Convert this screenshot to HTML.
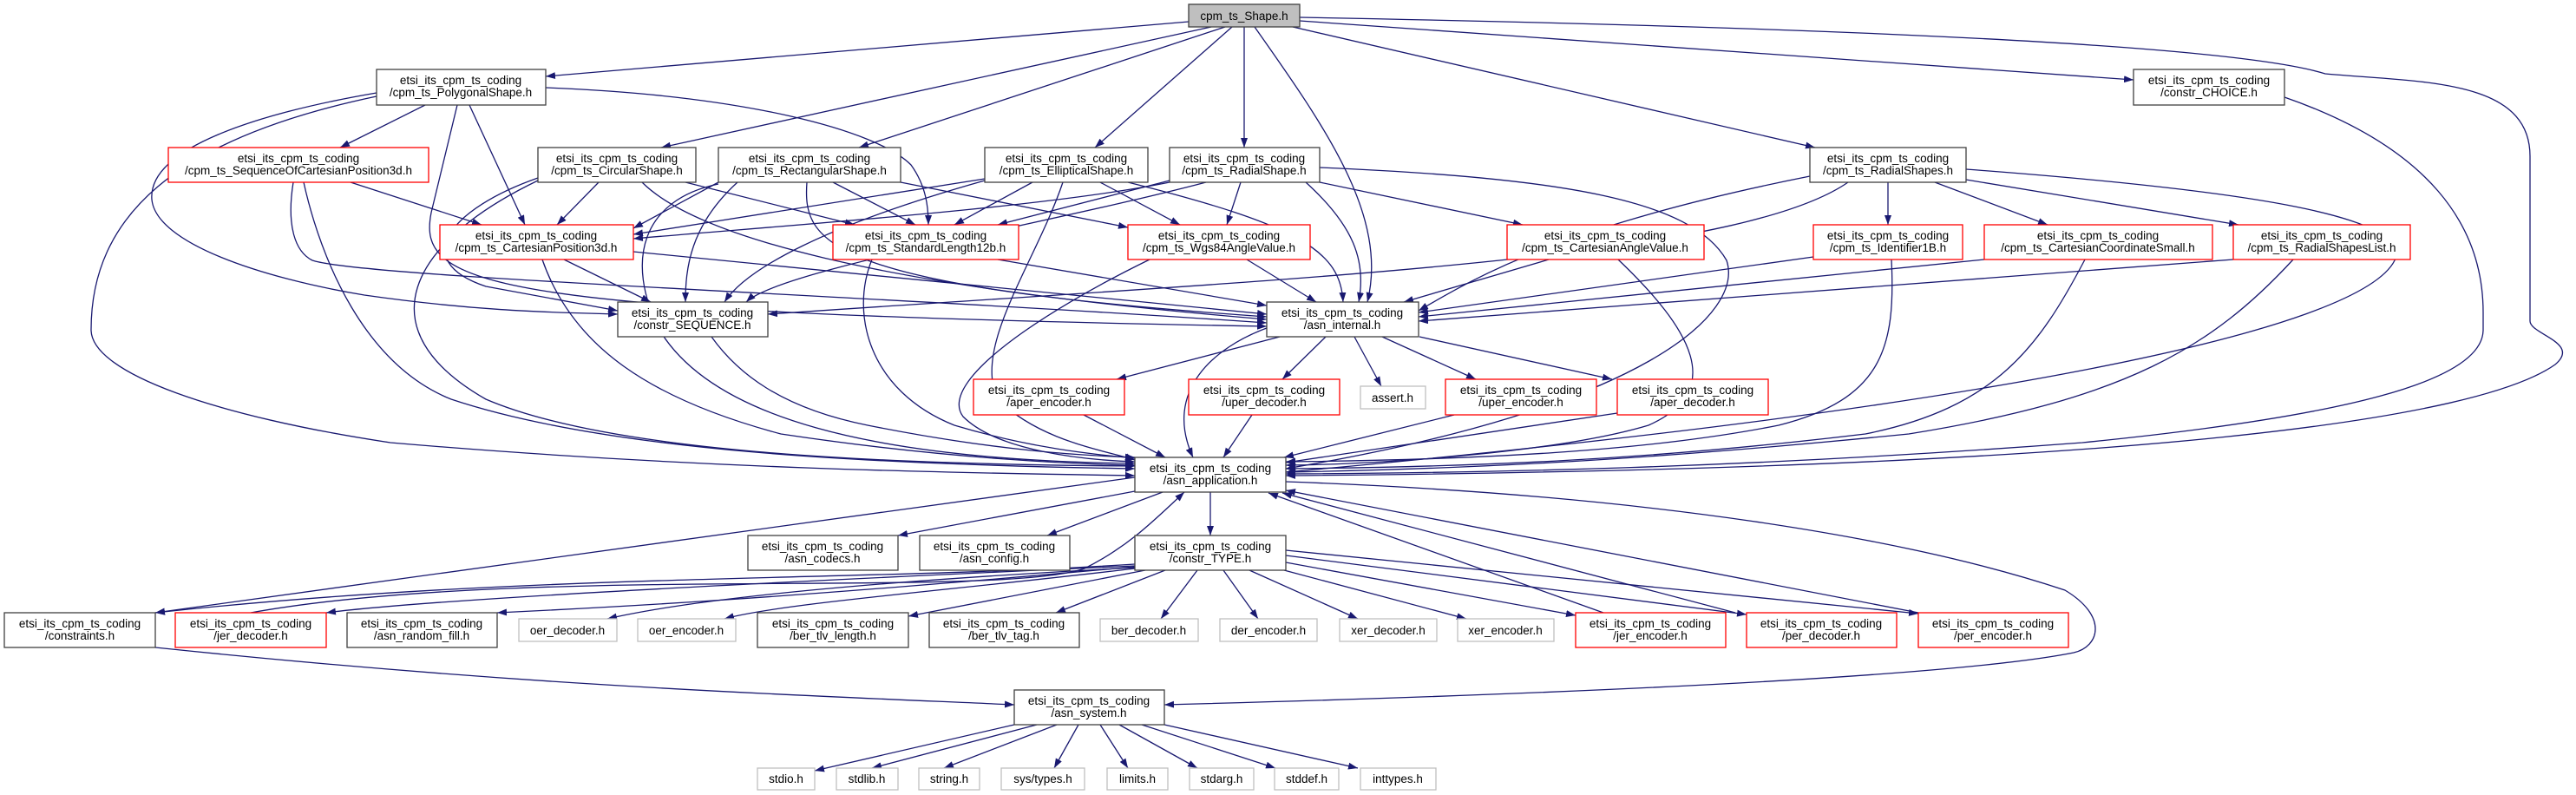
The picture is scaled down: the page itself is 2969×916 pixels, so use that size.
<!DOCTYPE html>
<html><head><meta charset="utf-8"><style>
html,body{margin:0;padding:0;background:#fff;}
svg{display:block;}
text{font-family:"Liberation Sans",sans-serif;font-size:13.5px;fill:#000;text-anchor:middle;}
.b{fill:#fff;stroke:#404040;stroke-width:1.3;}
.r{fill:#fff;stroke:#ff0000;stroke-width:1.3;}
.g{fill:#fff;stroke:#bfbfbf;stroke-width:1.3;}
</style></head><body>
<svg width="2969" height="916" viewBox="0 0 2969 916" xmlns="http://www.w3.org/2000/svg">
<defs><marker id="a" markerUnits="userSpaceOnUse" markerWidth="11" markerHeight="8" refX="11" refY="4" orient="auto"><path d="M0,0 L11,4 L0,8 z" fill="#191970"/></marker></defs>
<g fill="none" stroke="#191970" stroke-width="1.3" marker-end="url(#a)">
<path d="M1370,25 L629,88"/>
<path d="M1396,31 L762,170"/>
<path d="M1412,31 L990,170"/>
<path d="M1420,31 L1262,170"/>
<path d="M1434,31 L1434,170"/>
<path d="M1446,31 C1530,150 1600,250 1576,348"/>
<path d="M1490,31 L2092,170"/>
<path d="M1498,24 L2459,92"/>
<path d="M1498,20 C2300,35 2600,60 2680,85 C2790,95 2916,90 2916,180 L2916,370 C2916,385 2975,395 2945,420 C2860,480 2500,540 1482,548"/>
<path d="M490,121 L392,170"/>
<path d="M541,121 L605,259"/>
<path d="M434,107 C300,130 170,170 175,230 C180,280 300,320 420,340 C560,360 650,360 712,362"/>
<path d="M434,111 C200,160 105,250 105,380 C105,430 250,480 450,510 C800,540 1100,545 1308,548"/>
<path d="M629,101 C860,110 1010,150 1050,190 C1068,215 1070,240 1070,259"/>
<path d="M527,121 L497,245 C480,330 560,360 1460,376"/>
<path d="M404,210 L555,259"/>
<path d="M338,210 C330,260 340,290 360,300 C420,320 1000,340 1460,372"/>
<path d="M350,210 C370,300 420,420 520,460 C700,520 1000,535 1308,540"/>
<path d="M690,210 L642,259"/>
<path d="M620,205 C520,240 470,300 560,330 L712,358"/>
<path d="M740,210 C800,270 1000,330 1460,368"/>
<path d="M620,208 C470,280 420,380 560,460 C700,520 1000,535 1308,537"/>
<path d="M790,210 L985,259"/>
<path d="M828,210 L730,263"/>
<path d="M850,210 C795,260 790,310 790,348"/>
<path d="M960,210 L1055,259"/>
<path d="M1038,210 L1300,262"/>
<path d="M930,210 C925,280 950,330 1460,365"/>
<path d="M828,212 C740,230 720,300 760,380 C820,480 1000,530 1308,534"/>
<path d="M1135,206 L730,270"/>
<path d="M1190,210 L1100,259"/>
<path d="M1268,210 L1360,259"/>
<path d="M1135,208 C950,260 860,310 835,348"/>
<path d="M1300,210 C1500,260 1545,290 1548,348"/>
<path d="M1225,210 C1195,300 1120,400 1150,460 C1200,510 1280,520 1308,530"/>
<path d="M1348,208 L1150,259"/>
<path d="M1430,210 L1414,259"/>
<path d="M1521,210 L1755,259"/>
<path d="M1390,210 C1200,260 900,310 860,348"/>
<path d="M1505,210 C1560,260 1575,300 1566,348"/>
<path d="M1521,193 C1800,205 1950,230 1990,300 C2010,360 1900,470 1482,540"/>
<path d="M1348,210 C1200,240 900,260 730,275"/>
<path d="M2176,210 L2176,259"/>
<path d="M2230,210 L2360,259"/>
<path d="M2266,207 L2580,259"/>
<path d="M2086,203 C1800,260 1700,320 1635,358"/>
<path d="M2130,210 C2000,300 1500,320 885,362"/>
<path d="M2266,195 C2600,220 2780,250 2760,300 C2720,380 2300,470 1482,544"/>
<path d="M650,299 L750,348"/>
<path d="M730,290 L1460,362"/>
<path d="M625,299 C660,400 750,460 900,500 C1100,530 1250,535 1308,536"/>
<path d="M1150,299 L1460,352"/>
<path d="M1005,299 C980,360 1000,450 1100,490 C1200,520 1280,525 1308,528"/>
<path d="M1437,299 L1517,348"/>
<path d="M1325,299 C1200,360 1080,440 1110,480 C1150,520 1250,530 1308,532"/>
<path d="M1785,299 L1618,348"/>
<path d="M1865,299 C1950,380 1990,450 1900,490 C1800,520 1600,535 1482,536"/>
<path d="M2090,296 L1635,360"/>
<path d="M2180,299 C2185,400 2170,460 2050,490 C1900,520 1700,530 1482,532"/>
<path d="M2287,299 L1635,365"/>
<path d="M2403,299 C2350,400 2300,470 2150,500 C1900,530 1700,538 1482,540"/>
<path d="M2574,299 L1635,370"/>
<path d="M2643,299 C2550,400 2450,460 2200,500 C1900,530 1700,540 1482,544"/>
<path d="M2633,112 C2800,170 2862,260 2862,360 L2862,380 C2862,440 2700,480 2400,510 C2000,540 1700,545 1482,546"/>
<path d="M820,388 C850,430 900,470 1000,490 C1150,520 1250,525 1308,527"/>
<path d="M1475,388 L1287,437"/>
<path d="M1528,388 L1478,437"/>
<path d="M1561,388 L1592,445"/>
<path d="M1593,388 L1701,437"/>
<path d="M1636,388 L1858,437"/>
<path d="M1460,378 C1400,400 1340,450 1375,527"/>
<path d="M1249,478 L1343,527"/>
<path d="M1443,478 L1410,527"/>
<path d="M1676,478 L1480,527"/>
<path d="M1864,476 L1482,533"/>
<path d="M1395,567 L1395,617"/>
<path d="M1340,567 L1207,617"/>
<path d="M1308,566 L1035,617"/>
<path d="M1308,550 L179,706"/>
<path d="M1482,555 C1900,570 2200,620 2380,680 C2430,710 2420,745 2390,752 C2250,780 1800,800 1342,812"/>
<path d="M1308,650 C1000,670 600,660 179,706"/>
<path d="M1308,652 C900,670 500,690 376,706"/>
<path d="M1308,653 C900,690 700,700 573,706"/>
<path d="M1308,654 C1000,670 800,690 700,713"/>
<path d="M1308,655 C1100,680 900,695 835,713"/>
<path d="M1320,657 L1047,710"/>
<path d="M1343,657 L1217,706"/>
<path d="M1380,657 L1338,713"/>
<path d="M1410,657 L1450,713"/>
<path d="M1440,657 L1565,713"/>
<path d="M1480,657 L1690,713"/>
<path d="M1482,648 L1816,709"/>
<path d="M1482,640 L2013,708"/>
<path d="M1482,634 L2211,707"/>
<path d="M289,706 C600,650 1150,690 1250,655 C1300,630 1330,600 1365,567"/>
<path d="M1848,706 L1462,568"/>
<path d="M2000,706 L1478,568"/>
<path d="M2211,706 L1482,565"/>
<path d="M179,746 C600,790 900,800 1169,812"/>
<path d="M1169,835 L939,888"/>
<path d="M1195,835 L1005,885"/>
<path d="M1218,835 L1088,885"/>
<path d="M1243,835 L1215,885"/>
<path d="M1268,835 L1300,885"/>
<path d="M1290,835 L1380,885"/>
<path d="M1316,835 L1470,885"/>
<path d="M1342,835 L1565,885"/>
</g>

<!-- nodes -->
<rect x="1370" y="5" width="128" height="26" style="fill:#bfbfbf;stroke:#404040;stroke-width:1.3"/><text x="1434" y="23">cpm_ts_Shape.h</text>

<rect class="b" x="434" y="80" width="195" height="41"/><text x="531" y="97">etsi_its_cpm_ts_coding</text><text x="531" y="111">/cpm_ts_PolygonalShape.h</text>
<rect class="b" x="2459" y="80" width="174" height="41"/><text x="2546" y="97">etsi_its_cpm_ts_coding</text><text x="2546" y="111">/constr_CHOICE.h</text>

<rect class="r" x="194" y="170" width="300" height="40"/><text x="344" y="187">etsi_its_cpm_ts_coding</text><text x="344" y="201">/cpm_ts_SequenceOfCartesianPosition3d.h</text>
<rect class="b" x="620" y="170" width="182" height="40"/><text x="711" y="187">etsi_its_cpm_ts_coding</text><text x="711" y="201">/cpm_ts_CircularShape.h</text>
<rect class="b" x="828" y="170" width="210" height="40"/><text x="933" y="187">etsi_its_cpm_ts_coding</text><text x="933" y="201">/cpm_ts_RectangularShape.h</text>
<rect class="b" x="1135" y="170" width="188" height="40"/><text x="1229" y="187">etsi_its_cpm_ts_coding</text><text x="1229" y="201">/cpm_ts_EllipticalShape.h</text>
<rect class="b" x="1348" y="170" width="173" height="40"/><text x="1434" y="187">etsi_its_cpm_ts_coding</text><text x="1434" y="201">/cpm_ts_RadialShape.h</text>
<rect class="b" x="2086" y="170" width="180" height="40"/><text x="2176" y="187">etsi_its_cpm_ts_coding</text><text x="2176" y="201">/cpm_ts_RadialShapes.h</text>

<rect class="r" x="507" y="259" width="223" height="40"/><text x="618" y="276">etsi_its_cpm_ts_coding</text><text x="618" y="290">/cpm_ts_CartesianPosition3d.h</text>
<rect class="r" x="960" y="259" width="214" height="40"/><text x="1067" y="276">etsi_its_cpm_ts_coding</text><text x="1067" y="290">/cpm_ts_StandardLength12b.h</text>
<rect class="r" x="1300" y="259" width="210" height="40"/><text x="1405" y="276">etsi_its_cpm_ts_coding</text><text x="1405" y="290">/cpm_ts_Wgs84AngleValue.h</text>
<rect class="r" x="1737" y="259" width="227" height="40"/><text x="1850" y="276">etsi_its_cpm_ts_coding</text><text x="1850" y="290">/cpm_ts_CartesianAngleValue.h</text>
<rect class="r" x="2090" y="259" width="172" height="40"/><text x="2176" y="276">etsi_its_cpm_ts_coding</text><text x="2176" y="290">/cpm_ts_Identifier1B.h</text>
<rect class="r" x="2287" y="259" width="263" height="40"/><text x="2418" y="276">etsi_its_cpm_ts_coding</text><text x="2418" y="290">/cpm_ts_CartesianCoordinateSmall.h</text>
<rect class="r" x="2574" y="259" width="204" height="40"/><text x="2676" y="276">etsi_its_cpm_ts_coding</text><text x="2676" y="290">/cpm_ts_RadialShapesList.h</text>

<rect class="b" x="712" y="348" width="173" height="40"/><text x="798" y="365">etsi_its_cpm_ts_coding</text><text x="798" y="379">/constr_SEQUENCE.h</text>
<rect class="b" x="1460" y="348" width="175" height="40"/><text x="1547" y="365">etsi_its_cpm_ts_coding</text><text x="1547" y="379">/asn_internal.h</text>

<rect class="r" x="1122" y="437" width="174" height="41"/><text x="1209" y="454">etsi_its_cpm_ts_coding</text><text x="1209" y="468">/aper_encoder.h</text>
<rect class="r" x="1370" y="437" width="174" height="41"/><text x="1457" y="454">etsi_its_cpm_ts_coding</text><text x="1457" y="468">/uper_decoder.h</text>
<rect class="g" x="1568" y="445" width="75" height="26"/><text x="1605" y="463">assert.h</text>
<rect class="r" x="1666" y="437" width="174" height="41"/><text x="1753" y="454">etsi_its_cpm_ts_coding</text><text x="1753" y="468">/uper_encoder.h</text>
<rect class="r" x="1864" y="437" width="174" height="41"/><text x="1951" y="454">etsi_its_cpm_ts_coding</text><text x="1951" y="468">/aper_decoder.h</text>

<rect class="b" x="1308" y="527" width="174" height="40"/><text x="1395" y="544">etsi_its_cpm_ts_coding</text><text x="1395" y="558">/asn_application.h</text>

<rect class="b" x="862" y="617" width="173" height="40"/><text x="948" y="634">etsi_its_cpm_ts_coding</text><text x="948" y="648">/asn_codecs.h</text>
<rect class="b" x="1060" y="617" width="173" height="40"/><text x="1146" y="634">etsi_its_cpm_ts_coding</text><text x="1146" y="648">/asn_config.h</text>
<rect class="b" x="1308" y="617" width="174" height="40"/><text x="1395" y="634">etsi_its_cpm_ts_coding</text><text x="1395" y="648">/constr_TYPE.h</text>

<rect class="b" x="5" y="706" width="174" height="40"/><text x="92" y="723">etsi_its_cpm_ts_coding</text><text x="92" y="737">/constraints.h</text>
<rect class="r" x="202" y="706" width="174" height="40"/><text x="289" y="723">etsi_its_cpm_ts_coding</text><text x="289" y="737">/jer_decoder.h</text>
<rect class="b" x="400" y="706" width="173" height="40"/><text x="486" y="723">etsi_its_cpm_ts_coding</text><text x="486" y="737">/asn_random_fill.h</text>
<rect class="g" x="598" y="713" width="113" height="26"/><text x="654" y="731">oer_decoder.h</text>
<rect class="g" x="735" y="713" width="113" height="26"/><text x="791" y="731">oer_encoder.h</text>
<rect class="b" x="873" y="706" width="174" height="40"/><text x="960" y="723">etsi_its_cpm_ts_coding</text><text x="960" y="737">/ber_tlv_length.h</text>
<rect class="b" x="1071" y="706" width="173" height="40"/><text x="1157" y="723">etsi_its_cpm_ts_coding</text><text x="1157" y="737">/ber_tlv_tag.h</text>
<rect class="g" x="1268" y="713" width="113" height="26"/><text x="1324" y="731">ber_decoder.h</text>
<rect class="g" x="1406" y="713" width="112" height="26"/><text x="1462" y="731">der_encoder.h</text>
<rect class="g" x="1544" y="713" width="112" height="26"/><text x="1600" y="731">xer_decoder.h</text>
<rect class="g" x="1680" y="713" width="111" height="26"/><text x="1735" y="731">xer_encoder.h</text>
<rect class="r" x="1816" y="706" width="173" height="40"/><text x="1902" y="723">etsi_its_cpm_ts_coding</text><text x="1902" y="737">/jer_encoder.h</text>
<rect class="r" x="2013" y="706" width="173" height="40"/><text x="2099" y="723">etsi_its_cpm_ts_coding</text><text x="2099" y="737">/per_decoder.h</text>
<rect class="r" x="2211" y="706" width="173" height="40"/><text x="2297" y="723">etsi_its_cpm_ts_coding</text><text x="2297" y="737">/per_encoder.h</text>

<rect class="b" x="1169" y="795" width="173" height="40"/><text x="1255" y="812">etsi_its_cpm_ts_coding</text><text x="1255" y="826">/asn_system.h</text>

<rect class="g" x="873" y="885" width="66" height="25"/><text x="906" y="902">stdio.h</text>
<rect class="g" x="964" y="885" width="71" height="25"/><text x="999" y="902">stdlib.h</text>
<rect class="g" x="1059" y="885" width="70" height="25"/><text x="1094" y="902">string.h</text>
<rect class="g" x="1154" y="885" width="96" height="25"/><text x="1202" y="902">sys/types.h</text>
<rect class="g" x="1276" y="885" width="70" height="25"/><text x="1311" y="902">limits.h</text>
<rect class="g" x="1371" y="885" width="74" height="25"/><text x="1408" y="902">stdarg.h</text>
<rect class="g" x="1469" y="885" width="74" height="25"/><text x="1506" y="902">stddef.h</text>
<rect class="g" x="1568" y="885" width="87" height="25"/><text x="1611" y="902">inttypes.h</text>
</svg>
</body></html>
